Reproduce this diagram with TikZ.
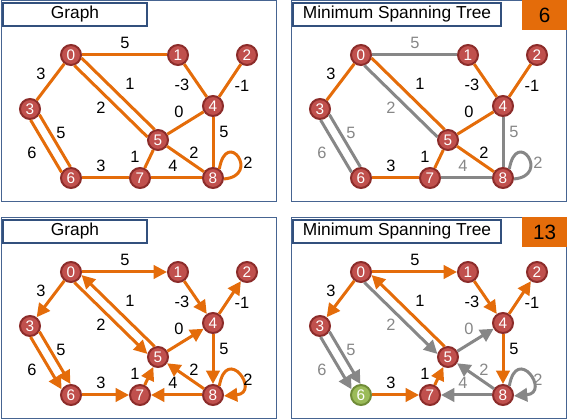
\documentclass[tikz,border=0pt]{standalone}
\usepackage{fontspec}
\setmainfont{Liberation Sans}
\usetikzlibrary{arrows.meta}
\definecolor{edgeorange}{RGB}{228,108,10}
\definecolor{edgegray}{RGB}{135,135,135}
\definecolor{vertexred}{RGB}{192,80,77}
\definecolor{vertexrim}{RGB}{140,44,42}
\definecolor{rootgreen}{RGB}{155,187,89}
\definecolor{rootrim}{RGB}{112,140,56}
\definecolor{frameblue}{RGB}{70,100,145}
\definecolor{titleblue}{RGB}{50,80,125}

\begin{document}
\begin{tikzpicture}[x=0.75pt, y=-0.75pt,
    vertex/.style={circle, fill=vertexred, draw=vertexrim, line width=1.5pt,
      minimum size=15pt, inner sep=0pt, text=white, font=\fontsize{11.5}{13}\selectfont},
    root/.style={vertex, fill=rootgreen, draw=rootrim},
    used/.style={draw=edgeorange, line width=2.25pt},
    unused/.style={draw=edgegray, line width=2.25pt},
    tip/.style={-{Triangle[length=10pt, width=10pt]}},
    weight/.style={font=\fontsize{12.3}{14}\selectfont, inner sep=0pt},
    grayweight/.style={weight, text=edgegray},
    frame/.style={draw=frameblue, line width=0.75pt},
    title/.style={draw=titleblue, line width=1.5pt, fill=white, minimum height=17.25pt,
      inner sep=0pt, font=\fontsize{13}{15}\selectfont},
    total/.style={fill=edgeorange, minimum width=33.75pt, minimum height=22.5pt,
      inner sep=0pt, font=\fontsize{15.5}{18}\selectfont}]
  \useasboundingbox (0,0) rectangle (568,420);
  % Panel frames
  \foreach \dx/\dy in {0/0, 290/0, 0/217, 290/217}
    \draw[frame] (\dx+1,\dy+1) rectangle (\dx+276,\dy+202);
  % Titles and tree weights
  \node[title, minimum width=108pt] (tA) at (75,14.5) {Graph};
  \node[title, minimum width=156pt] (tB) at (397,14.5) {Minimum Spanning Tree};
  \node[title, minimum width=108pt] (tC) at (75,231.5) {Graph};
  \node[title, minimum width=156pt] (tD) at (397,231.5) {Minimum Spanning Tree};
  \node[total] (sB) at (544.5,15) {6};
  \node[total] (sD) at (544.5,232) {13};
  % Vertices (same layout in every panel, root 6 green in the last one)
  \foreach \p/\dx/\dy/\r in {a/0/0/vertex, b/290/0/vertex, c/0/217/vertex, d/290/217/root} {
    \foreach \v/\x/\y in {0/71/55, 1/178/55, 2/247/55, 3/30/109, 4/213/106,
                          5/158/140, 7/140/178, 8/213/178}
      \node[vertex] (\p\v) at (\x+\dx,\y+\dy) {\v};
    \node[\r] (\p6) at (71+\dx,178+\dy) {6};
  }
  % Graph (undirected)
  \begin{scope}
    \draw[used] (a0) -- (a1) node[weight] (aw01) at (125,43) {5};
    \draw[used] (a0) -- (a3) node[weight] (aw03) at (41,74) {3};
    \draw[used] (a0.-72) -- (a5.164) node[weight] (aw05) at (101,108) {2};
    \draw[used] (a5.108) -- (a0.-16) node[weight] (aw50) at (130,84) {1};
    \draw[used] (a1) -- (a4) node[weight] (aw14) at (182,85) {-3};
    \draw[used] (a4) -- (a2) node[weight] (aw42) at (242,86) {-1};
    \draw[used] (a3.-31) -- (a6.93) node[weight] (aw36) at (61,133) {5};
    \draw[used] (a3.-87) -- (a6.149) node[weight] (aw63) at (32,153) {6};
    \draw[used] (a5) -- (a4) node[weight] (aw54) at (179,112) {0};
    \draw[used] (a4) -- (a8) node[weight] (aw48) at (224,132) {5};
    \draw[used] (a8) -- (a5) node[weight] (aw85) at (194,153) {2};
    \draw[used] (a7) -- (a5) node[weight] (aw75) at (135,157) {1};
    \draw[used] (a6) -- (a7) node[weight] (aw67) at (101,166) {3};
    \draw[used] (a8) -- (a7) node[weight] (aw87) at (173,166) {4};
    \draw[used] (a8.55) .. controls +(80:32pt) and +(5:28pt) .. (a8.-5)
      node[weight] (aw88) at (248,163) {2};
  \end{scope}
  % Minimum spanning tree of the undirected graph
  \begin{scope}[shift={(290,0)}]
    \draw[unused] (b0) -- (b1) node[grayweight] (bw01) at (125,43) {5};
    \draw[used] (b0) -- (b3) node[weight] (bw03) at (41,74) {3};
    \draw[unused] (b0.-72) -- (b5.164) node[grayweight] (bw05) at (101,108) {2};
    \draw[used] (b5.108) -- (b0.-16) node[weight] (bw50) at (130,84) {1};
    \draw[used] (b1) -- (b4) node[weight] (bw14) at (182,85) {-3};
    \draw[used] (b4) -- (b2) node[weight] (bw42) at (242,86) {-1};
    \draw[unused] (b3.-31) -- (b6.93) node[grayweight] (bw36) at (61,133) {5};
    \draw[unused] (b3.-87) -- (b6.149) node[grayweight] (bw63) at (32,153) {6};
    \draw[used] (b5) -- (b4) node[weight] (bw54) at (179,112) {0};
    \draw[unused] (b4) -- (b8) node[grayweight] (bw48) at (224,132) {5};
    \draw[used] (b8) -- (b5) node[weight] (bw85) at (194,153) {2};
    \draw[used] (b7) -- (b5) node[weight] (bw75) at (135,157) {1};
    \draw[used] (b6) -- (b7) node[weight] (bw67) at (101,166) {3};
    \draw[unused] (b8) -- (b7) node[grayweight] (bw87) at (173,166) {4};
    \draw[unused] (b8.55) .. controls +(80:32pt) and +(5:28pt) .. (b8.-5)
      node[grayweight] (bw88) at (248,163) {2};
  \end{scope}
  % Graph (directed)
  \begin{scope}[shift={(0,217)}]
    \draw[used, tip] (c0) -- (c1) node[weight] (cw01) at (125,43) {5};
    \draw[used, tip] (c0) -- (c3) node[weight] (cw03) at (41,74) {3};
    \draw[used, tip] (c0.-72) -- (c5.164) node[weight] (cw05) at (101,108) {2};
    \draw[used, tip] (c5.108) -- (c0.-16) node[weight] (cw50) at (130,84) {1};
    \draw[used, tip] (c1) -- (c4) node[weight] (cw14) at (182,85) {-3};
    \draw[used, tip] (c4) -- (c2) node[weight] (cw42) at (242,86) {-1};
    \draw[used, tip] (c3.-31) -- (c6.93) node[weight] (cw36) at (61,133) {5};
    \draw[used, tip] (c3.-87) -- (c6.149) node[weight] (cw63) at (32,153) {6};
    \draw[used, tip] (c5) -- (c4) node[weight] (cw54) at (179,112) {0};
    \draw[used, tip] (c4) -- (c8) node[weight] (cw48) at (224,132) {5};
    \draw[used, tip] (c8) -- (c5) node[weight] (cw85) at (194,153) {2};
    \draw[used, tip] (c7) -- (c5) node[weight] (cw75) at (135,157) {1};
    \draw[used, tip] (c6) -- (c7) node[weight] (cw67) at (101,166) {3};
    \draw[used, tip] (c8) -- (c7) node[weight] (cw87) at (173,166) {4};
    \draw[used, tip] (c8.55) .. controls +(80:32pt) and +(5:28pt) .. (c8.-5)
      node[weight] (cw88) at (248,163) {2};
  \end{scope}
  % Minimum spanning tree rooted at 6
  \begin{scope}[shift={(290,217)}]
    \draw[used, tip] (d0) -- (d1) node[weight] (dw01) at (125,43) {5};
    \draw[used, tip] (d0) -- (d3) node[weight] (dw03) at (41,74) {3};
    \draw[unused, tip] (d0.-72) -- (d5.164) node[grayweight] (dw05) at (101,108) {2};
    \draw[used, tip] (d5.108) -- (d0.-16) node[weight] (dw50) at (130,84) {1};
    \draw[used, tip] (d1) -- (d4) node[weight] (dw14) at (182,85) {-3};
    \draw[used, tip] (d4) -- (d2) node[weight] (dw42) at (242,86) {-1};
    \draw[unused, tip] (d3.-31) -- (d6.93) node[grayweight] (dw36) at (61,133) {5};
    \draw[unused, tip] (d3.-87) -- (d6.149) node[grayweight] (dw63) at (32,153) {6};
    \draw[unused, tip] (d5) -- (d4) node[grayweight] (dw54) at (179,112) {0};
    \draw[used, tip] (d4) -- (d8) node[weight] (dw48) at (224,132) {5};
    \draw[unused, tip] (d8) -- (d5) node[grayweight] (dw85) at (194,153) {2};
    \draw[used, tip] (d7) -- (d5) node[weight] (dw75) at (135,157) {1};
    \draw[used, tip] (d6) -- (d7) node[weight] (dw67) at (101,166) {3};
    \draw[unused, tip] (d8) -- (d7) node[grayweight] (dw87) at (173,166) {4};
    \draw[unused, tip] (d8.55) .. controls +(80:32pt) and +(5:28pt) .. (d8.-5)
      node[grayweight] (dw88) at (248,163) {2};
  \end{scope}
\end{tikzpicture}
\end{document}
